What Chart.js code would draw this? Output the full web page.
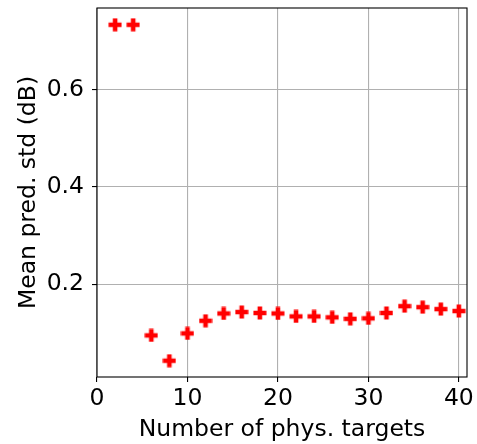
<!DOCTYPE html>
<html>
<head>
<meta charset="utf-8">
<script src="https://cdn.jsdelivr.net/npm/chart.js@4/dist/chart.umd.min.js"></script>
<style>
html,body{margin:0;padding:0;background:#fff;}
#c{display:block;}
</style>
</head>
<body>
<canvas id="c" width="477" height="444"></canvas>
<script>
// Data
const numTargets = [2,4,6,8,10,12,14,16,18,20,22,24,26,28,30,32,34,36,38,40];
const meanPredStd = [0.733,0.733,0.095,0.043,0.099,0.125,0.140,0.143,0.141,0.140,0.134,0.134,0.132,0.129,0.130,0.141,0.155,0.153,0.149,0.145];
const xTicks = [0,10,20,30,40];
const yTicks = [0.2,0.4,0.6];
const xLabel = 'Number of phys. targets';
const yLabel = 'Mean pred. std (dB)';

// filled plus marker
function makePlus(size, arm, color){
  const c = document.createElement('canvas');
  c.width = size; c.height = size;
  const g = c.getContext('2d');
  const h = size/2, e = size/2 - 0.5, a = arm/2;
  g.fillStyle = color;
  g.beginPath();
  g.moveTo(h-a, h-e); g.lineTo(h+a, h-e); g.lineTo(h+a, h-a); g.lineTo(h+e, h-a);
  g.lineTo(h+e, h+a); g.lineTo(h+a, h+a); g.lineTo(h+a, h+e); g.lineTo(h-a, h+e);
  g.lineTo(h-a, h+a); g.lineTo(h-e, h+a); g.lineTo(h-e, h-a); g.lineTo(h-a, h-a);
  g.closePath();
  g.fill();
  return c;
}
const plus = makePlus(14, 4.6, '#ff0000');

const FONT = "'DejaVu Sans'";
const FS = 23.5;
const frame = {
  id: 'frame',
  afterDatasetsDraw(chart){
    const {ctx, chartArea:a} = chart;
    ctx.save();
    ctx.strokeStyle = '#000';
    ctx.lineWidth = 1.1;
    ctx.strokeRect(a.left, a.top, a.right - a.left, a.bottom - a.top);
    ctx.restore();
  }
};

new Chart(document.getElementById('c'), {
  type: 'scatter',
  data: {
    datasets: [{
      data: numTargets.map((x,i)=>({x:x, y:meanPredStd[i]})),
      pointStyle: plus,
      pointRadius: 7,
      backgroundColor: '#ff0000',
      borderColor: '#ff0000'
    }]
  },
  options: {
    responsive: false,
    animation: false,
    devicePixelRatio: 1,
    layout: {padding: {left: 0, top: 7, right: 10, bottom: 0}},
    plugins: {legend: {display: false}, tooltip: {enabled: false}},
    scales: {
      x: {
        type: 'linear',
        min: 0, max: 40.9,
        afterBuildTicks: s => { s.ticks = xTicks.map(v=>({value:v})); },
        afterFit: s => { s.height = 67; s.paddingLeft = 0; s.paddingRight = 0; },
        grid: {color: '#b0b0b0', lineWidth: 1.1, tickColor: '#000', tickLength: 5, drawTicks: true},
        border: {display: false},
        ticks: {color: '#000', font: {family: FONT, size: FS}, padding: 3, maxRotation: 0,
                callback: v => String(v)},
        title: {display: true, text: xLabel, color: '#000', font: {family: FONT, size: FS},
                padding: {top: 0, bottom: 0}}
      },
      y: {
        type: 'linear',
        min: 0.0095, max: 0.7675,
        afterBuildTicks: s => { s.ticks = yTicks.map(v=>({value:v})); },
        afterFit: s => { s.width = 97; s.paddingTop = 0; s.paddingBottom = 0; },
        grid: {color: '#b0b0b0', lineWidth: 1.1, tickColor: '#000', tickLength: 5, drawTicks: true},
        border: {display: false},
        ticks: {color: '#000', font: {family: FONT, size: FS}, padding: 8,
                callback: v => v.toFixed(1)},
        title: {display: true, text: yLabel, color: '#000', font: {family: FONT, size: FS},
                padding: {top: 15, bottom: 0}}
      }
    }
  },
  plugins: [frame]
});
</script>
</body>
</html>
